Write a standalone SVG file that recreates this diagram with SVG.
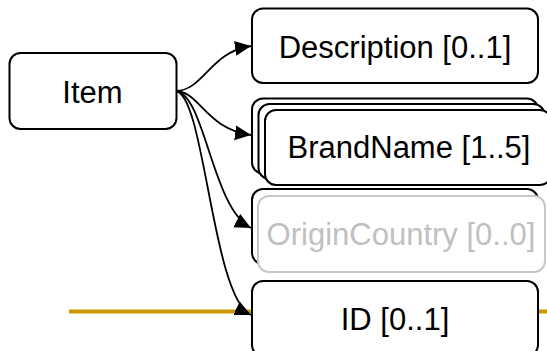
<svg xmlns="http://www.w3.org/2000/svg" width="547" height="351" viewBox="0 0 547 351">
  <style>
    .box { fill: #ffffff; stroke: #000000; stroke-width: 2; }
    .ghost { fill: #ffffff; stroke: #c8c8c8; stroke-width: 2; }
    .label { font-family: "Liberation Sans", Arial, sans-serif; font-size: 31px; fill: #000000; text-anchor: middle; }
    .ghost-label { fill: #c0c0c0; }
    .link { fill: none; stroke: #000000; stroke-width: 1.8; marker-end: url(#arrow); }
  </style>
  <defs>
    <marker id="arrow" markerUnits="userSpaceOnUse" markerWidth="17" markerHeight="16" refX="16" refY="7.5" orient="auto">
      <path d="M0,0 L16,7.5 L0,15 z" fill="#000000"/>
    </marker>
  </defs>

  <rect width="547" height="351" fill="#ffffff"/>

  <!-- horizontal guide line behind the ID element -->
  <line x1="69" y1="311.5" x2="547" y2="311.5" stroke="#cc9900" stroke-width="4"/>

  <g id="connectors">
    <path class="link" d="M176,91 C204,90 210,52 251,46"/>
    <path class="link" d="M176,91 C200,92 206,129 251,135"/>
    <path class="link" d="M176,91 C205,95 212,208 251,228"/>
    <path class="link" d="M176,91 C205,96 212,297 251,315"/>
  </g>

  <g id="item">
    <rect class="box" x="9.5" y="53" width="167" height="76" rx="11"/>
    <text class="label" x="92.5" y="103">Item</text>
  </g>

  <g id="description">
    <rect class="box" x="252" y="8.5" width="286" height="74.5" rx="11"/>
    <text class="label" x="395" y="58">Description [0..1]</text>
  </g>

  <g id="brandname">
    <rect class="box" x="252" y="98.5" width="286" height="75" rx="11"/>
    <rect class="box" x="258.5" y="104" width="286" height="75" rx="11"/>
    <rect class="box" x="265" y="110" width="286" height="75" rx="11"/>
    <text class="label" x="409" y="157.5">BrandName [1..5]</text>
  </g>

  <g id="origincountry">
    <rect class="box" x="252" y="189" width="286" height="75" rx="11"/>
    <rect class="ghost" x="258" y="196" width="287" height="76" rx="11"/>
    <text class="label ghost-label" x="401" y="245">OriginCountry [0..0]</text>
  </g>

  <g id="id">
    <rect class="box" x="252" y="281" width="286" height="75" rx="11"/>
    <text class="label" x="395" y="329.5">ID [0..1]</text>
  </g>
</svg>
